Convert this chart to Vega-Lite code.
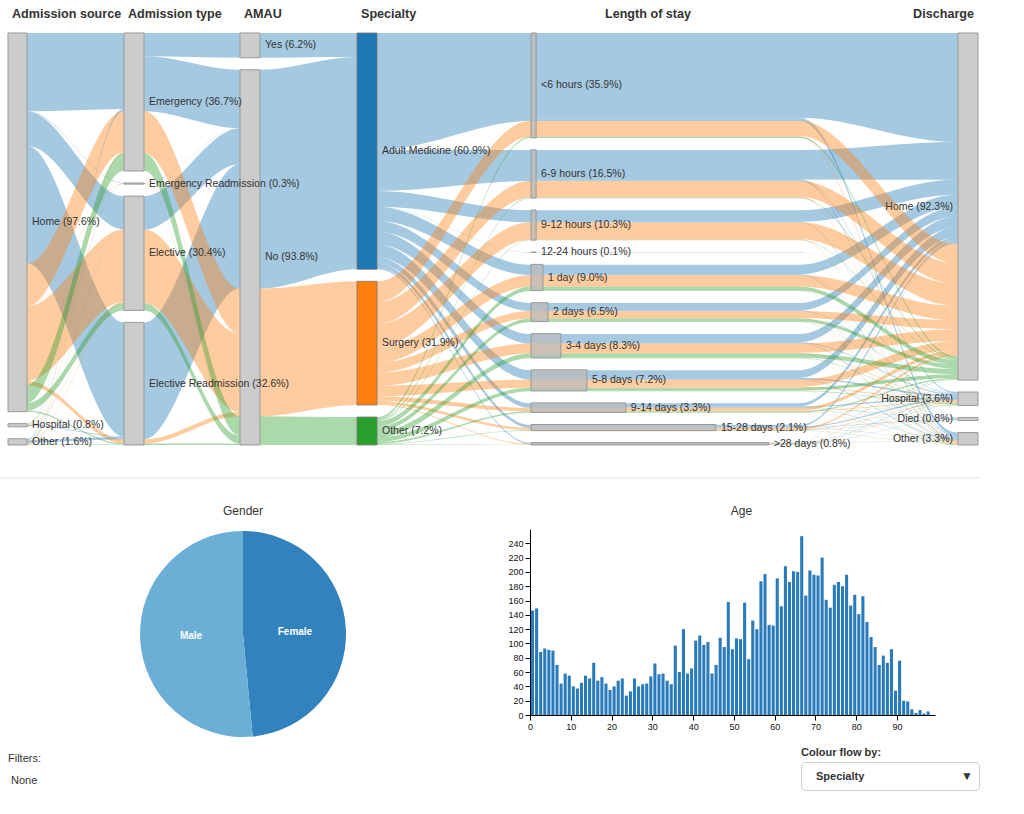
{
"$schema":"https://vega.github.io/schema/vega-lite/v6.json",
"padding":0,
"background":"white",
"config":{"view":{"stroke":null,"fill":"white"},"font":"Liberation Sans","title":{"fontSize":12,"fontWeight":"normal","color":"#333","font":"Liberation Sans"},"axis":{"labelFont":"Liberation Sans","labelFontSize":9,"labelColor":"#111","domainColor":"#000","tickColor":"#000","grid":false}},
"datasets":{
"nodes":[
{"s":0,"n":"Home","r":0,"p":97.6,"e":0.1},
{"s":0,"n":"Hospital","r":1,"p":0.8,"e":0.1},
{"s":0,"n":"Other","r":2,"p":1.6,"e":0.1},
{"s":1,"n":"Emergency","r":0,"p":36.7,"e":1.1},
{"s":1,"n":"Emergency Readmission","r":1,"p":0.3,"e":1.1},
{"s":1,"n":"Elective","r":2,"p":30.4,"e":1.1},
{"s":1,"n":"Elective Readmission","r":3,"p":32.6,"e":1.1},
{"s":2,"n":"Yes","r":0,"p":6.2,"e":2.1},
{"s":2,"n":"No","r":1,"p":93.8,"e":2.1},
{"s":3,"n":"Adult Medicine","r":0,"p":60.9,"e":3.1,"k":0},
{"s":3,"n":"Surgery","r":1,"p":31.9,"e":3.1,"k":1},
{"s":3,"n":"Other","r":2,"p":7.2,"e":3.1,"k":2},
{"s":4,"n":"<6 hours","r":0,"p":35.9,"e":4.012},
{"s":4,"n":"6-9 hours","r":1,"p":16.5,"e":4.012},
{"s":4,"n":"9-12 hours","r":2,"p":10.3,"e":4.012},
{"s":4,"n":"12-24 hours","r":3,"p":0.1,"e":4.012},
{"s":4,"n":"1 day","r":4,"p":9.0,"e":4.028},
{"s":4,"n":"2 days","r":5,"p":6.5,"e":4.040},
{"s":4,"n":"3-4 days","r":6,"p":8.3,"e":4.070},
{"s":4,"n":"5-8 days","r":7,"p":7.2,"e":4.131},
{"s":4,"n":"9-14 days","r":8,"p":3.3,"e":4.222},
{"s":4,"n":"15-28 days","r":9,"p":2.1,"e":4.433},
{"s":4,"n":">28 days","r":10,"p":0.8,"e":4.557},
{"s":5,"n":"Home","r":0,"p":92.3,"e":5.1},
{"s":5,"n":"Hospital","r":1,"p":3.6,"e":5.1},
{"s":5,"n":"Died","r":2,"p":0.8,"e":5.1},
{"s":5,"n":"Other","r":3,"p":3.3,"e":5.1}
],
"titles":[
{"s":0,"t":"Admission source"},{"s":1,"t":"Admission type"},{"s":2,"t":"AMAU"},{"s":3,"t":"Specialty"},{"s":4,"t":"Length of stay"},{"s":5,"t":"Discharge"}
],
"links":[
{"s":0,"a":"Home","ra":0,"b":"Emergency","rb":0,"k":0,"v":20.2},
{"s":0,"a":"Home","ra":0,"b":"Emergency Readmission","rb":1,"k":0,"v":0.1},
{"s":0,"a":"Home","ra":0,"b":"Elective","rb":2,"k":0,"v":8.8},
{"s":0,"a":"Home","ra":0,"b":"Elective Readmission","rb":3,"k":0,"v":30.3},
{"s":0,"a":"Home","ra":0,"b":"Emergency","rb":0,"k":1,"v":10.9},
{"s":0,"a":"Home","ra":0,"b":"Emergency Readmission","rb":1,"k":1,"v":0.1},
{"s":0,"a":"Home","ra":0,"b":"Elective","rb":2,"k":1,"v":19.2},
{"s":0,"a":"Home","ra":0,"b":"Elective Readmission","rb":3,"k":1,"v":1.1},
{"s":0,"a":"Home","ra":0,"b":"Emergency","rb":0,"k":2,"v":4.5},
{"s":0,"a":"Home","ra":0,"b":"Emergency Readmission","rb":1,"k":2,"v":0.1},
{"s":0,"a":"Home","ra":0,"b":"Elective","rb":2,"k":2,"v":2.0},
{"s":0,"a":"Home","ra":0,"b":"Elective Readmission","rb":3,"k":2,"v":0.3},
{"s":0,"a":"Hospital","ra":1,"b":"Emergency","rb":0,"k":0,"v":0.3},
{"s":0,"a":"Hospital","ra":1,"b":"Elective Readmission","rb":3,"k":0,"v":0.2},
{"s":0,"a":"Hospital","ra":1,"b":"Emergency","rb":0,"k":1,"v":0.1},
{"s":0,"a":"Hospital","ra":1,"b":"Elective","rb":2,"k":1,"v":0.1},
{"s":0,"a":"Hospital","ra":1,"b":"Emergency","rb":0,"k":2,"v":0.1},
{"s":0,"a":"Other","ra":2,"b":"Emergency","rb":0,"k":0,"v":0.3},
{"s":0,"a":"Other","ra":2,"b":"Elective","rb":2,"k":0,"v":0.1},
{"s":0,"a":"Other","ra":2,"b":"Elective Readmission","rb":3,"k":0,"v":0.6},
{"s":0,"a":"Other","ra":2,"b":"Emergency","rb":0,"k":1,"v":0.2},
{"s":0,"a":"Other","ra":2,"b":"Elective","rb":2,"k":1,"v":0.2},
{"s":0,"a":"Other","ra":2,"b":"Emergency","rb":0,"k":2,"v":0.1},
{"s":0,"a":"Other","ra":2,"b":"Elective Readmission","rb":3,"k":2,"v":0.1},
{"s":1,"a":"Emergency","ra":0,"b":"Yes","rb":0,"k":0,"v":6.2},
{"s":1,"a":"Emergency","ra":0,"b":"No","rb":1,"k":0,"v":14.6},
{"s":1,"a":"Emergency Readmission","ra":1,"b":"No","rb":1,"k":0,"v":0.1},
{"s":1,"a":"Elective","ra":2,"b":"No","rb":1,"k":0,"v":8.9},
{"s":1,"a":"Elective Readmission","ra":3,"b":"No","rb":1,"k":0,"v":31.1},
{"s":1,"a":"Emergency","ra":0,"b":"No","rb":1,"k":1,"v":11.2},
{"s":1,"a":"Emergency Readmission","ra":1,"b":"No","rb":1,"k":1,"v":0.1},
{"s":1,"a":"Elective","ra":2,"b":"No","rb":1,"k":1,"v":19.5},
{"s":1,"a":"Elective Readmission","ra":3,"b":"No","rb":1,"k":1,"v":1.1},
{"s":1,"a":"Emergency","ra":0,"b":"No","rb":1,"k":2,"v":4.7},
{"s":1,"a":"Emergency Readmission","ra":1,"b":"No","rb":1,"k":2,"v":0.1},
{"s":1,"a":"Elective","ra":2,"b":"No","rb":1,"k":2,"v":2.0},
{"s":1,"a":"Elective Readmission","ra":3,"b":"No","rb":1,"k":2,"v":0.4},
{"s":2,"a":"Yes","ra":0,"b":"Adult Medicine","rb":0,"k":0,"v":6.2},
{"s":2,"a":"No","ra":1,"b":"Adult Medicine","rb":0,"k":0,"v":54.7},
{"s":2,"a":"No","ra":1,"b":"Surgery","rb":1,"k":1,"v":31.9},
{"s":2,"a":"No","ra":1,"b":"Other","rb":2,"k":2,"v":7.2},
{"s":3,"a":"Adult Medicine","ra":0,"b":"<6 hours","rb":0,"k":0,"v":30.1},
{"s":3,"a":"Adult Medicine","ra":0,"b":"6-9 hours","rb":1,"k":0,"v":10.6},
{"s":3,"a":"Adult Medicine","ra":0,"b":"9-12 hours","rb":2,"k":0,"v":4.1},
{"s":3,"a":"Adult Medicine","ra":0,"b":"12-24 hours","rb":3,"k":0,"v":0.05},
{"s":3,"a":"Adult Medicine","ra":0,"b":"1 day","rb":4,"k":0,"v":3.6},
{"s":3,"a":"Adult Medicine","ra":0,"b":"2 days","rb":5,"k":0,"v":2.8},
{"s":3,"a":"Adult Medicine","ra":0,"b":"3-4 days","rb":6,"k":0,"v":3.3},
{"s":3,"a":"Adult Medicine","ra":0,"b":"5-8 days","rb":7,"k":0,"v":3.3},
{"s":3,"a":"Adult Medicine","ra":0,"b":"9-14 days","rb":8,"k":0,"v":1.6},
{"s":3,"a":"Adult Medicine","ra":0,"b":"15-28 days","rb":9,"k":0,"v":1.05},
{"s":3,"a":"Adult Medicine","ra":0,"b":">28 days","rb":10,"k":0,"v":0.4},
{"s":3,"a":"Surgery","ra":1,"b":"<6 hours","rb":0,"k":1,"v":5.4},
{"s":3,"a":"Surgery","ra":1,"b":"6-9 hours","rb":1,"k":1,"v":5.6},
{"s":3,"a":"Surgery","ra":1,"b":"9-12 hours","rb":2,"k":1,"v":6.0},
{"s":3,"a":"Surgery","ra":1,"b":"12-24 hours","rb":3,"k":1,"v":0.03},
{"s":3,"a":"Surgery","ra":1,"b":"1 day","rb":4,"k":1,"v":4.0},
{"s":3,"a":"Surgery","ra":1,"b":"2 days","rb":5,"k":1,"v":2.5},
{"s":3,"a":"Surgery","ra":1,"b":"3-4 days","rb":6,"k":1,"v":3.4},
{"s":3,"a":"Surgery","ra":1,"b":"5-8 days","rb":7,"k":1,"v":2.7},
{"s":3,"a":"Surgery","ra":1,"b":"9-14 days","rb":8,"k":1,"v":1.2},
{"s":3,"a":"Surgery","ra":1,"b":"15-28 days","rb":9,"k":1,"v":0.77},
{"s":3,"a":"Surgery","ra":1,"b":">28 days","rb":10,"k":1,"v":0.3},
{"s":3,"a":"Other","ra":2,"b":"<6 hours","rb":0,"k":2,"v":0.5},
{"s":3,"a":"Other","ra":2,"b":"6-9 hours","rb":1,"k":2,"v":0.3},
{"s":3,"a":"Other","ra":2,"b":"9-12 hours","rb":2,"k":2,"v":0.2},
{"s":3,"a":"Other","ra":2,"b":"12-24 hours","rb":3,"k":2,"v":0.02},
{"s":3,"a":"Other","ra":2,"b":"1 day","rb":4,"k":2,"v":1.4},
{"s":3,"a":"Other","ra":2,"b":"2 days","rb":5,"k":2,"v":1.2},
{"s":3,"a":"Other","ra":2,"b":"3-4 days","rb":6,"k":2,"v":1.6},
{"s":3,"a":"Other","ra":2,"b":"5-8 days","rb":7,"k":2,"v":1.2},
{"s":3,"a":"Other","ra":2,"b":"9-14 days","rb":8,"k":2,"v":0.5},
{"s":3,"a":"Other","ra":2,"b":"15-28 days","rb":9,"k":2,"v":0.18},
{"s":3,"a":"Other","ra":2,"b":">28 days","rb":10,"k":2,"v":0.1},
{"s":4,"a":"<6 hours","ra":0,"b":"Home","rb":0,"k":0,"v":29.0},
{"s":4,"a":"<6 hours","ra":0,"b":"Hospital","rb":1,"k":0,"v":0.1},
{"s":4,"a":"<6 hours","ra":0,"b":"Died","rb":2,"k":0,"v":0.1},
{"s":4,"a":"<6 hours","ra":0,"b":"Other","rb":3,"k":0,"v":0.9},
{"s":4,"a":"6-9 hours","ra":1,"b":"Home","rb":0,"k":0,"v":10.05},
{"s":4,"a":"6-9 hours","ra":1,"b":"Hospital","rb":1,"k":0,"v":0.3},
{"s":4,"a":"6-9 hours","ra":1,"b":"Other","rb":3,"k":0,"v":0.25},
{"s":4,"a":"9-12 hours","ra":2,"b":"Home","rb":0,"k":0,"v":3.95},
{"s":4,"a":"9-12 hours","ra":2,"b":"Other","rb":3,"k":0,"v":0.15},
{"s":4,"a":"12-24 hours","ra":3,"b":"Home","rb":0,"k":0,"v":0.05},
{"s":4,"a":"1 day","ra":4,"b":"Home","rb":0,"k":0,"v":3.3},
{"s":4,"a":"1 day","ra":4,"b":"Hospital","rb":1,"k":0,"v":0.1},
{"s":4,"a":"1 day","ra":4,"b":"Died","rb":2,"k":0,"v":0.05},
{"s":4,"a":"1 day","ra":4,"b":"Other","rb":3,"k":0,"v":0.15},
{"s":4,"a":"2 days","ra":5,"b":"Home","rb":0,"k":0,"v":2.5},
{"s":4,"a":"2 days","ra":5,"b":"Hospital","rb":1,"k":0,"v":0.15},
{"s":4,"a":"2 days","ra":5,"b":"Died","rb":2,"k":0,"v":0.05},
{"s":4,"a":"2 days","ra":5,"b":"Other","rb":3,"k":0,"v":0.1},
{"s":4,"a":"3-4 days","ra":6,"b":"Home","rb":0,"k":0,"v":2.85},
{"s":4,"a":"3-4 days","ra":6,"b":"Hospital","rb":1,"k":0,"v":0.25},
{"s":4,"a":"3-4 days","ra":6,"b":"Died","rb":2,"k":0,"v":0.05},
{"s":4,"a":"3-4 days","ra":6,"b":"Other","rb":3,"k":0,"v":0.15},
{"s":4,"a":"5-8 days","ra":7,"b":"Home","rb":0,"k":0,"v":2.6},
{"s":4,"a":"5-8 days","ra":7,"b":"Hospital","rb":1,"k":0,"v":0.4},
{"s":4,"a":"5-8 days","ra":7,"b":"Died","rb":2,"k":0,"v":0.1},
{"s":4,"a":"5-8 days","ra":7,"b":"Other","rb":3,"k":0,"v":0.2},
{"s":4,"a":"9-14 days","ra":8,"b":"Home","rb":0,"k":0,"v":1.05},
{"s":4,"a":"9-14 days","ra":8,"b":"Hospital","rb":1,"k":0,"v":0.35},
{"s":4,"a":"9-14 days","ra":8,"b":"Died","rb":2,"k":0,"v":0.1},
{"s":4,"a":"9-14 days","ra":8,"b":"Other","rb":3,"k":0,"v":0.1},
{"s":4,"a":"15-28 days","ra":9,"b":"Home","rb":0,"k":0,"v":0.55},
{"s":4,"a":"15-28 days","ra":9,"b":"Hospital","rb":1,"k":0,"v":0.3},
{"s":4,"a":"15-28 days","ra":9,"b":"Died","rb":2,"k":0,"v":0.1},
{"s":4,"a":"15-28 days","ra":9,"b":"Other","rb":3,"k":0,"v":0.1},
{"s":4,"a":">28 days","ra":10,"b":"Home","rb":0,"k":0,"v":0.15},
{"s":4,"a":">28 days","ra":10,"b":"Hospital","rb":1,"k":0,"v":0.15},
{"s":4,"a":">28 days","ra":10,"b":"Died","rb":2,"k":0,"v":0.05},
{"s":4,"a":">28 days","ra":10,"b":"Other","rb":3,"k":0,"v":0.05},
{"s":4,"a":"<6 hours","ra":0,"b":"Home","rb":0,"k":1,"v":5.2},
{"s":4,"a":"<6 hours","ra":0,"b":"Other","rb":3,"k":1,"v":0.2},
{"s":4,"a":"6-9 hours","ra":1,"b":"Home","rb":0,"k":1,"v":5.45},
{"s":4,"a":"6-9 hours","ra":1,"b":"Other","rb":3,"k":1,"v":0.15},
{"s":4,"a":"9-12 hours","ra":2,"b":"Home","rb":0,"k":1,"v":5.85},
{"s":4,"a":"9-12 hours","ra":2,"b":"Other","rb":3,"k":1,"v":0.15},
{"s":4,"a":"12-24 hours","ra":3,"b":"Home","rb":0,"k":1,"v":0.03},
{"s":4,"a":"1 day","ra":4,"b":"Home","rb":0,"k":1,"v":3.85},
{"s":4,"a":"1 day","ra":4,"b":"Hospital","rb":1,"k":1,"v":0.05},
{"s":4,"a":"1 day","ra":4,"b":"Other","rb":3,"k":1,"v":0.1},
{"s":4,"a":"2 days","ra":5,"b":"Home","rb":0,"k":1,"v":2.35},
{"s":4,"a":"2 days","ra":5,"b":"Hospital","rb":1,"k":1,"v":0.1},
{"s":4,"a":"2 days","ra":5,"b":"Other","rb":3,"k":1,"v":0.05},
{"s":4,"a":"3-4 days","ra":6,"b":"Home","rb":0,"k":1,"v":3.15},
{"s":4,"a":"3-4 days","ra":6,"b":"Hospital","rb":1,"k":1,"v":0.15},
{"s":4,"a":"3-4 days","ra":6,"b":"Other","rb":3,"k":1,"v":0.1},
{"s":4,"a":"5-8 days","ra":7,"b":"Home","rb":0,"k":1,"v":2.4},
{"s":4,"a":"5-8 days","ra":7,"b":"Hospital","rb":1,"k":1,"v":0.2},
{"s":4,"a":"5-8 days","ra":7,"b":"Died","rb":2,"k":1,"v":0.03},
{"s":4,"a":"5-8 days","ra":7,"b":"Other","rb":3,"k":1,"v":0.07},
{"s":4,"a":"9-14 days","ra":8,"b":"Home","rb":0,"k":1,"v":0.95},
{"s":4,"a":"9-14 days","ra":8,"b":"Hospital","rb":1,"k":1,"v":0.15},
{"s":4,"a":"9-14 days","ra":8,"b":"Died","rb":2,"k":1,"v":0.02},
{"s":4,"a":"9-14 days","ra":8,"b":"Other","rb":3,"k":1,"v":0.08},
{"s":4,"a":"15-28 days","ra":9,"b":"Home","rb":0,"k":1,"v":0.55},
{"s":4,"a":"15-28 days","ra":9,"b":"Hospital","rb":1,"k":1,"v":0.15},
{"s":4,"a":"15-28 days","ra":9,"b":"Died","rb":2,"k":1,"v":0.02},
{"s":4,"a":"15-28 days","ra":9,"b":"Other","rb":3,"k":1,"v":0.05},
{"s":4,"a":">28 days","ra":10,"b":"Home","rb":0,"k":1,"v":0.17},
{"s":4,"a":">28 days","ra":10,"b":"Hospital","rb":1,"k":1,"v":0.1},
{"s":4,"a":">28 days","ra":10,"b":"Died","rb":2,"k":1,"v":0.03},
{"s":4,"a":"<6 hours","ra":0,"b":"Home","rb":0,"k":2,"v":0.45},
{"s":4,"a":"<6 hours","ra":0,"b":"Other","rb":3,"k":2,"v":0.05},
{"s":4,"a":"6-9 hours","ra":1,"b":"Home","rb":0,"k":2,"v":0.28},
{"s":4,"a":"6-9 hours","ra":1,"b":"Other","rb":3,"k":2,"v":0.02},
{"s":4,"a":"9-12 hours","ra":2,"b":"Home","rb":0,"k":2,"v":0.19},
{"s":4,"a":"9-12 hours","ra":2,"b":"Other","rb":3,"k":2,"v":0.01},
{"s":4,"a":"12-24 hours","ra":3,"b":"Home","rb":0,"k":2,"v":0.02},
{"s":4,"a":"1 day","ra":4,"b":"Home","rb":0,"k":2,"v":1.3},
{"s":4,"a":"1 day","ra":4,"b":"Hospital","rb":1,"k":2,"v":0.05},
{"s":4,"a":"1 day","ra":4,"b":"Other","rb":3,"k":2,"v":0.05},
{"s":4,"a":"2 days","ra":5,"b":"Home","rb":0,"k":2,"v":1.1},
{"s":4,"a":"2 days","ra":5,"b":"Hospital","rb":1,"k":2,"v":0.07},
{"s":4,"a":"2 days","ra":5,"b":"Other","rb":3,"k":2,"v":0.03},
{"s":4,"a":"3-4 days","ra":6,"b":"Home","rb":0,"k":2,"v":1.4},
{"s":4,"a":"3-4 days","ra":6,"b":"Hospital","rb":1,"k":2,"v":0.15},
{"s":4,"a":"3-4 days","ra":6,"b":"Other","rb":3,"k":2,"v":0.05},
{"s":4,"a":"5-8 days","ra":7,"b":"Home","rb":0,"k":2,"v":1.0},
{"s":4,"a":"5-8 days","ra":7,"b":"Hospital","rb":1,"k":2,"v":0.15},
{"s":4,"a":"5-8 days","ra":7,"b":"Died","rb":2,"k":2,"v":0.02},
{"s":4,"a":"5-8 days","ra":7,"b":"Other","rb":3,"k":2,"v":0.03},
{"s":4,"a":"9-14 days","ra":8,"b":"Home","rb":0,"k":2,"v":0.35},
{"s":4,"a":"9-14 days","ra":8,"b":"Hospital","rb":1,"k":2,"v":0.1},
{"s":4,"a":"9-14 days","ra":8,"b":"Died","rb":2,"k":2,"v":0.02},
{"s":4,"a":"9-14 days","ra":8,"b":"Other","rb":3,"k":2,"v":0.03},
{"s":4,"a":"15-28 days","ra":9,"b":"Home","rb":0,"k":2,"v":0.1},
{"s":4,"a":"15-28 days","ra":9,"b":"Hospital","rb":1,"k":2,"v":0.06},
{"s":4,"a":"15-28 days","ra":9,"b":"Died","rb":2,"k":2,"v":0.01},
{"s":4,"a":"15-28 days","ra":9,"b":"Other","rb":3,"k":2,"v":0.01},
{"s":4,"a":">28 days","ra":10,"b":"Home","rb":0,"k":2,"v":0.05},
{"s":4,"a":">28 days","ra":10,"b":"Hospital","rb":1,"k":2,"v":0.03},
{"s":4,"a":">28 days","ra":10,"b":"Other","rb":3,"k":2,"v":0.02}
],
"gender":[{"g":"Female","pct":48.5},{"g":"Male","pct":51.5}],
"ages":[
{"age":0,"n":146},{"age":1,"n":149},{"age":2,"n":88},{"age":3,"n":93},{"age":4,"n":91},{"age":5,"n":90},{"age":6,"n":70},{"age":7,"n":44},{"age":8,"n":58},{"age":9,"n":55},
{"age":10,"n":40},{"age":11,"n":37},{"age":12,"n":45},{"age":13,"n":55},{"age":14,"n":51},{"age":15,"n":73},{"age":16,"n":48},{"age":17,"n":53},{"age":18,"n":44},{"age":19,"n":35},
{"age":20,"n":40},{"age":21,"n":48},{"age":22,"n":51},{"age":23,"n":27},{"age":24,"n":33},{"age":25,"n":51},{"age":26,"n":40},{"age":27,"n":43},{"age":28,"n":44},{"age":29,"n":54},
{"age":30,"n":72},{"age":31,"n":57},{"age":32,"n":58},{"age":33,"n":48},{"age":34,"n":43},{"age":35,"n":97},{"age":36,"n":60},{"age":37,"n":120},{"age":38,"n":58},{"age":39,"n":65},
{"age":40,"n":104},{"age":41,"n":111},{"age":42,"n":98},{"age":43,"n":102},{"age":44,"n":58},{"age":45,"n":70},{"age":46,"n":108},{"age":47,"n":95},{"age":48,"n":158},{"age":49,"n":92},
{"age":50,"n":107},{"age":51,"n":106},{"age":52,"n":157},{"age":53,"n":78},{"age":54,"n":132},{"age":55,"n":120},{"age":56,"n":187},{"age":57,"n":197},{"age":58,"n":126},{"age":59,"n":125},
{"age":60,"n":191},{"age":61,"n":152},{"age":62,"n":208},{"age":63,"n":186},{"age":64,"n":201},{"age":65,"n":200},{"age":66,"n":250},{"age":67,"n":167},{"age":68,"n":202},{"age":69,"n":196},
{"age":70,"n":195},{"age":71,"n":220},{"age":72,"n":161},{"age":73,"n":150},{"age":74,"n":182},{"age":75,"n":186},{"age":76,"n":180},{"age":77,"n":196},{"age":78,"n":153},{"age":79,"n":168},
{"age":80,"n":141},{"age":81,"n":166},{"age":82,"n":130},{"age":83,"n":109},{"age":84,"n":95},{"age":85,"n":70},{"age":86,"n":83},{"age":87,"n":73},{"age":88,"n":92},{"age":89,"n":34},
{"age":90,"n":76},{"age":91,"n":20},{"age":92,"n":19},{"age":93,"n":8},{"age":94,"n":3},{"age":95,"n":7},{"age":96,"n":2},{"age":97,"n":5}
]
},
"spacing":25,
"resolve":{"scale":{"color":"independent"}},
"vconcat":[
{"width":980,"height":480,
 "layer":[
  {"data":{"name":"links"},
   "transform":[
    {"joinaggregate":[{"op":"sum","field":"v","as":"tot"},{"op":"distinct","field":"ra","as":"na"},{"op":"distinct","field":"rb","as":"nb"}],"groupby":["s"]},
    {"window":[{"op":"sum","field":"v","as":"ca"}],"groupby":["s"],"sort":[{"field":"ra"},{"field":"k"},{"field":"rb"}],"frame":[null,0]},
    {"window":[{"op":"sum","field":"v","as":"cb"}],"groupby":["s"],"sort":[{"field":"rb"},{"field":"k"},{"field":"ra"}],"frame":[null,0]},
    {"calculate":"(1 - (datum.na - 1) * 0.029126) / datum.tot","as":"ka"},
    {"calculate":"(1 - (datum.nb - 1) * 0.029126) / datum.tot","as":"kb"},
    {"calculate":"(datum.ca - datum.v) * datum.ka + datum.ra * 0.029126","as":"ya"},
    {"calculate":"(datum.cb - datum.v) * datum.kb + datum.rb * 0.029126","as":"yb"},
    {"calculate":"datum.ya + datum.v * datum.ka","as":"ya2"},
    {"calculate":"datum.yb + datum.v * datum.kb","as":"yb2"},
    {"calculate":"datum.s == 4 ? 4 : datum.s + 0.1","as":"p0"},
    {"calculate":"datum.s == 4 ? 4.63 : datum.s + 0.106","as":"p1"},
    {"calculate":"datum.s == 4 ? 4.994 : datum.s + 0.994","as":"p2"},
    {"calculate":"datum.s + 1","as":"p3"},
    {"fold":["p0","p1","p2","p3"],"as":["pt","px"]},
    {"calculate":"datum.pt == 'p0' || datum.pt == 'p1' ? datum.ya : datum.yb","as":"yt"},
    {"calculate":"datum.pt == 'p0' || datum.pt == 'p1' ? datum.ya2 : datum.yb2","as":"yl"}
   ],
   "mark":{"type":"area","interpolate":"monotone","fillOpacity":0.4},
   "encoding":{
    "x":{"field":"px","type":"quantitative","scale":{"domain":[0,0.1,1,1.1,2,2.1,3,3.1,4,5,5.1],"range":[7,26,123,143,239,259,356,376,530,957,977],"nice":false,"zero":false},"axis":null},
    "y":{"field":"yt","type":"quantitative","stack":null,"scale":{"domain":[-0.0801,1.085],"reverse":true,"nice":false,"zero":false},"axis":null},
    "y2":{"field":"yl"},
    "detail":[{"field":"s","type":"nominal"},{"field":"ra","type":"nominal"},{"field":"rb","type":"nominal"}],
    "color":{"field":"k","type":"nominal","scale":{"domain":[0,1,2],"range":["#1f77b4","#ff7f0e","#2ca02c"]},"legend":null}
   }
  },
  {"data":{"name":"nodes"},
   "transform":[
    {"joinaggregate":[{"op":"count","as":"cnt"},{"op":"sum","field":"p","as":"tot"}],"groupby":["s"]},
    {"window":[{"op":"sum","field":"p","as":"cum"}],"groupby":["s"],"sort":[{"field":"r"}],"frame":[null,0]},
    {"calculate":"(1 - (datum.cnt - 1) * 0.029126) / datum.tot","as":"ky"},
    {"calculate":"(datum.cum - datum.p) * datum.ky + datum.r * 0.029126","as":"y0"},
    {"calculate":"datum.y0 + datum.p * datum.ky","as":"y1"},
    {"calculate":"(datum.y0 + datum.y1) / 2","as":"ym"},
    {"calculate":"datum.n + ' (' + format(datum.p, '.1f') + '%)'","as":"lab"}
   ],
   "layer":[
    {"transform":[{"filter":"datum.s != 3"}],
     "mark":{"type":"rect","fill":"#bbbbbb","fillOpacity":0.75,"stroke":"#999999","strokeWidth":1},
     "encoding":{
      "x":{"field":"s","type":"quantitative","scale":{"domain":[0,0.1,1,1.1,2,2.1,3,3.1,4,5,5.1],"range":[7,26,123,143,239,259,356,376,530,957,977],"nice":false,"zero":false},"axis":null},
      "x2":{"field":"e"},
      "y":{"field":"y0","type":"quantitative","scale":{"domain":[-0.0801,1.085],"reverse":true,"nice":false,"zero":false},"axis":null},
      "y2":{"field":"y1"}
     }},
    {"transform":[{"filter":"datum.s == 3"}],
     "mark":{"type":"rect","stroke":"#777777","strokeWidth":0.8},
     "encoding":{
      "x":{"field":"s","type":"quantitative","scale":{"domain":[0,0.1,1,1.1,2,2.1,3,3.1,4,5,5.1],"range":[7,26,123,143,239,259,356,376,530,957,977],"nice":false,"zero":false},"axis":null},
      "x2":{"field":"e"},
      "y":{"field":"y0","type":"quantitative","scale":{"domain":[-0.0801,1.085],"reverse":true,"nice":false,"zero":false},"axis":null},
      "y2":{"field":"y1"},
      "color":{"field":"k","type":"nominal","scale":{"domain":[0,1,2],"range":["#1f77b4","#ff7f0e","#2ca02c"]},"legend":null}
     }},
    {"transform":[{"filter":"datum.s < 5"}],
     "mark":{"type":"text","align":"left","baseline":"middle","dx":5,"fontSize":10.5,"color":"#333333"},
     "encoding":{
      "x":{"field":"e","type":"quantitative","scale":{"domain":[0,0.1,1,1.1,2,2.1,3,3.1,4,5,5.1],"range":[7,26,123,143,239,259,356,376,530,957,977],"nice":false,"zero":false},"axis":null},
      "y":{"field":"ym","type":"quantitative","scale":{"domain":[-0.0801,1.085],"reverse":true,"nice":false,"zero":false},"axis":null},
      "text":{"field":"lab"}
     }},
    {"transform":[{"filter":"datum.s == 5"}],
     "mark":{"type":"text","align":"right","baseline":"middle","dx":-5,"fontSize":10.5,"color":"#333333"},
     "encoding":{
      "x":{"field":"s","type":"quantitative","scale":{"domain":[0,0.1,1,1.1,2,2.1,3,3.1,4,5,5.1],"range":[7,26,123,143,239,259,356,376,530,957,977],"nice":false,"zero":false},"axis":null},
      "y":{"field":"ym","type":"quantitative","scale":{"domain":[-0.0801,1.085],"reverse":true,"nice":false,"zero":false},"axis":null},
      "text":{"field":"lab"}
     }}
   ]
  },
  {"data":{"name":"titles"},
   "layer":[
    {"transform":[{"filter":"datum.s <= 3"}],
     "mark":{"type":"text","align":"left","baseline":"middle","dx":4,"fontSize":12.6,"fontWeight":"bold","color":"#333333"},
     "encoding":{
      "x":{"field":"s","type":"quantitative","scale":{"domain":[0,0.1,1,1.1,2,2.1,3,3.1,4,5,5.1],"range":[7,26,123,143,239,259,356,376,530,957,977],"nice":false,"zero":false},"axis":null},
      "y":{"datum":-0.0461,"type":"quantitative","scale":{"domain":[-0.0801,1.085],"reverse":true,"nice":false,"zero":false},"axis":null},
      "text":{"field":"t"}
     }},
    {"transform":[{"filter":"datum.s == 4"}],
     "mark":{"type":"text","align":"center","baseline":"middle","dx":117,"fontSize":12.6,"fontWeight":"bold","color":"#333333"},
     "encoding":{
      "x":{"field":"s","type":"quantitative","scale":{"domain":[0,0.1,1,1.1,2,2.1,3,3.1,4,5,5.1],"range":[7,26,123,143,239,259,356,376,530,957,977],"nice":false,"zero":false},"axis":null},
      "y":{"datum":-0.0461,"type":"quantitative","scale":{"domain":[-0.0801,1.085],"reverse":true,"nice":false,"zero":false},"axis":null},
      "text":{"field":"t"}
     }},
    {"transform":[{"filter":"datum.s == 5"}],
     "mark":{"type":"text","align":"right","baseline":"middle","dx":16,"fontSize":12.6,"fontWeight":"bold","color":"#333333"},
     "encoding":{
      "x":{"field":"s","type":"quantitative","scale":{"domain":[0,0.1,1,1.1,2,2.1,3,3.1,4,5,5.1],"range":[7,26,123,143,239,259,356,376,530,957,977],"nice":false,"zero":false},"axis":null},
      "y":{"datum":-0.0461,"type":"quantitative","scale":{"domain":[-0.0801,1.085],"reverse":true,"nice":false,"zero":false},"axis":null},
      "text":{"field":"t"}
     }}
   ]
  },
  {"data":{"values":[{"sep":1}]},
   "mark":{"type":"rule","color":"#e3e3e3","strokeWidth":1},
   "encoding":{"y":{"datum":1.0801,"type":"quantitative","scale":{"domain":[-0.0801,1.085],"reverse":true,"nice":false,"zero":false},"axis":null}}}
 ]
},
{"spacing":7,
 "resolve":{"scale":{"color":"independent"}},
 "vconcat":[
  {"spacing":22,
   "hconcat":[
    {"width":484,"height":210,
     "title":{"text":"Gender","offset":11},
     "data":{"name":"gender"},
     "layer":[
      {"mark":{"type":"arc","outerRadius":103},
       "encoding":{"theta":{"field":"pct","type":"quantitative","stack":true},"color":{"field":"g","type":"nominal","scale":{"domain":["Female","Male"],"range":["#3182bd","#6baed6"]},"legend":null}}},
      {"mark":{"type":"text","radius":52,"fontWeight":"bold","fontSize":10,"color":"white"},
       "encoding":{"theta":{"field":"pct","type":"quantitative","stack":true},"detail":{"field":"g","type":"nominal"},"text":{"field":"g"}}}
     ]},
    {"width":405,"height":186,
     "title":{"text":"Age","offset":11,"dx":9},
     "data":{"name":"ages"},
     "mark":{"type":"bar","color":"#2b7bba","binSpacing":1},
     "encoding":{
      "x":{"field":"age","type":"quantitative","bin":{"step":1,"extent":[0,99]},"scale":{"domain":[0,99.3],"nice":false,"zero":false},"axis":{"values":[0,10,20,30,40,50,60,70,80,90],"title":null,"tickSize":5,"labelFlush":false,"format":"d"}},
      "y":{"aggregate":"sum","field":"n","type":"quantitative","scale":{"domain":[0,260],"nice":false},"axis":{"values":[0,20,40,60,80,100,120,140,160,180,200,220,240],"title":null,"tickSize":5}}
     }}
   ]},
  {"spacing":740,"bounds":"flush",
   "hconcat":[
    {"width":60,"height":28,
     "data":{"values":[{"f":"Filters:","v":"None"}]},
     "layer":[
      {"mark":{"type":"text","align":"left","baseline":"middle","fontSize":11,"color":"#333333","dx":-23,"dy":-17},"encoding":{"text":{"field":"f"}}},
      {"mark":{"type":"text","align":"left","baseline":"middle","fontSize":11,"color":"#333333","dx":-20,"dy":5},"encoding":{"text":{"field":"v"}}}
     ]},
    {"width":178,"height":28,
     "view":{"stroke":"#cccccc","cornerRadius":4,"fill":"white"},
     "title":{"text":"Colour flow by:","anchor":"start","fontWeight":"bold","fontSize":11,"offset":4},
     "data":{"values":[{"sel":"Specialty","arrow":"▼"}]},
     "layer":[
      {"mark":{"type":"text","align":"left","baseline":"middle","fontWeight":"bold","fontSize":11,"color":"#333333","dx":-74,"dy":1},"encoding":{"text":{"field":"sel"}}},
      {"mark":{"type":"text","align":"center","baseline":"middle","fontSize":12,"color":"#333333","dx":77},"encoding":{"text":{"field":"arrow"}}}
     ]}
   ]}
 ]}
]
}
